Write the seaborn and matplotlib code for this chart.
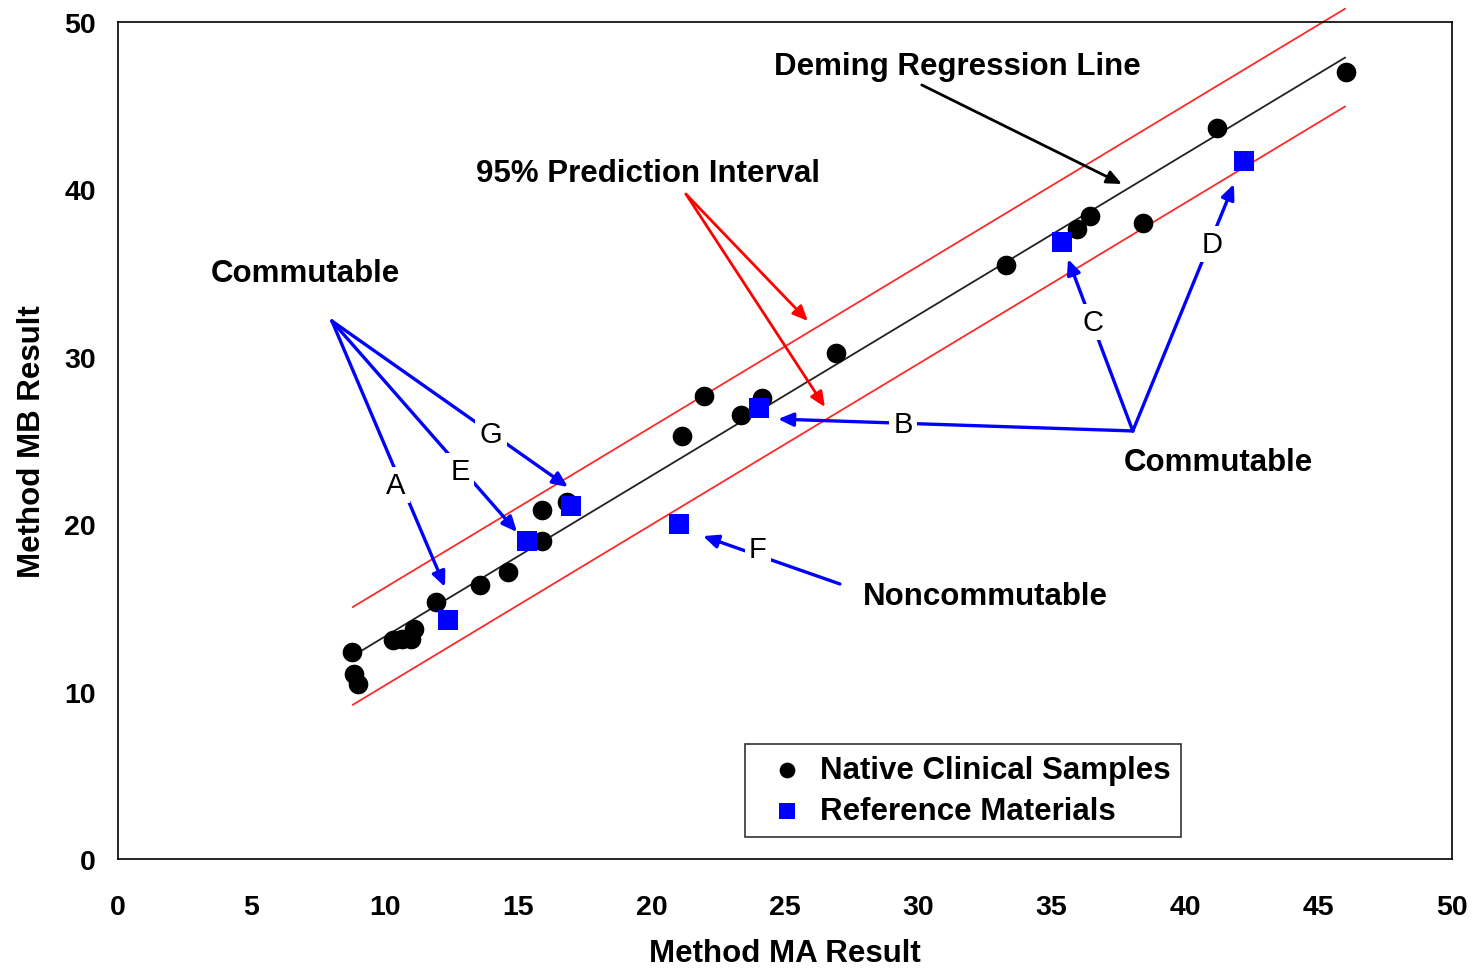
import numpy as np
import pandas as pd
import matplotlib
matplotlib.use("Agg")
import matplotlib.pyplot as plt
import seaborn as sns

# ---- data ----
native_x = [8.77, 8.86, 9.00, 10.31, 10.63, 10.98, 11.09, 11.92, 13.57, 14.63, 15.88, 15.88,
            16.84, 21.16, 21.97, 23.35, 24.16, 26.91, 33.28, 35.93, 36.43, 38.43, 41.18, 46.02]
native_y = [12.37, 11.05, 10.45, 13.08, 13.14, 13.14, 13.74, 15.37, 16.37, 17.16, 19.02, 20.87,
            21.35, 25.29, 27.68, 26.54, 27.51, 30.23, 35.48, 37.63, 38.39, 37.99, 43.64, 46.99]
ref_labels = ["A", "E", "G", "F", "B", "C", "D"]
ref_x = [12.38, 15.32, 16.97, 21.03, 24.04, 35.37, 42.20]
ref_y = [14.30, 19.02, 21.11, 20.01, 26.92, 36.88, 41.67]

deming_slope = 0.961
deming_intercept = 3.67
pi_halfwidth = 2.92
line_x_range = [8.8, 46.0]

x_ticks = [0, 5, 10, 15, 20, 25, 30, 35, 40, 45, 50]
y_ticks = [0, 10, 20, 30, 40, 50]

# ---- figure ----
sns.set_style("white")
plt.rcParams["font.family"] = ["Liberation Sans", "DejaVu Sans"]
plt.rcParams["text.color"] = "black"
plt.rcParams["axes.labelcolor"] = "black"
plt.rcParams["xtick.color"] = "black"
plt.rcParams["ytick.color"] = "black"

fig = plt.figure(figsize=(14.74, 9.70), dpi=100)
ax = fig.add_axes([0.080, 0.1134, 0.905, 0.8629])

lx = np.array(line_x_range)
ly = deming_intercept + deming_slope * lx
ax.plot(lx, ly, color="#222222", lw=1.3, zorder=2)
ax.plot(lx, ly + pi_halfwidth, color="#ff2a2a", lw=1.3, zorder=2, clip_on=False)
ax.plot(lx, ly - pi_halfwidth, color="#ff2a2a", lw=1.3, zorder=2, clip_on=False)

df_n = pd.DataFrame({"x": native_x, "y": native_y})
df_r = pd.DataFrame({"x": ref_x, "y": ref_y})
sns.scatterplot(data=df_n, x="x", y="y", color="black", marker="o", s=200,
                linewidth=0, ax=ax, zorder=4, label="Native Clinical Samples")
sns.scatterplot(data=df_r, x="x", y="y", color="#0000ff", marker="s", s=200,
                linewidth=0, ax=ax, zorder=5, label="Reference Materials")

ax.set_xlim(0, 50)
ax.set_ylim(0, 50)
ax.set_xticks(x_ticks)
ax.set_yticks(y_ticks)
ax.tick_params(axis="both", direction="out", length=6, width=1.2, color="black",
               labelsize=20.5)
ax.tick_params(axis="x", pad=19)
ax.tick_params(axis="y", pad=10)
for lab in ax.get_xticklabels() + ax.get_yticklabels():
    lab.set_fontweight("bold")
for sp in ax.spines.values():
    sp.set_visible(True)
    sp.set_color("black")
    sp.set_linewidth(1.2)
ax.set_xlabel("Method MA Result", fontsize=22.5, fontweight="bold", labelpad=13)
ax.set_ylabel("Method MB Result", fontsize=22.5, fontweight="bold", labelpad=12)

bold_kw = dict(fontsize=22.5, fontweight="bold", ha="center", va="center", zorder=6)
letter_kw = dict(fontsize=21, ha="center", va="center", zorder=7,
                 bbox=dict(boxstyle="square,pad=0.15", fc="white", ec="none"))


def arrow(start, end, color, lw=2.4):
    ax.annotate("", xy=end, xytext=start,
                arrowprops=dict(arrowstyle="-|>,head_length=0.9,head_width=0.4",
                                color=color, lw=lw, shrinkA=0, shrinkB=0),
                zorder=6, annotation_clip=False)


# Deming line label
ax.text(31.45, 47.35, "Deming Regression Line", **bold_kw)
arrow((30.13, 46.24), (37.63, 40.32), "black", lw=2.0)

# Prediction interval
ax.text(19.87, 40.95, "95% Prediction Interval", **bold_kw)
arrow((21.29, 39.72), (25.86, 32.14), "#ff0000", lw=2.0)
arrow((21.29, 39.72), (26.50, 27.00), "#ff0000", lw=2.0)

# Commutable (left)
ax.text(7.01, 35.0, "Commutable", **bold_kw)
src = (8.02, 32.14)
arrow(src, (12.26, 16.25), "#0000ff")
arrow(src, (14.96, 19.53), "#0000ff")
arrow(src, (16.87, 22.22), "#0000ff")
ax.text(10.42, 22.34, "A", **letter_kw)
ax.text(12.82, 23.18, "E", **letter_kw)
ax.text(13.98, 25.39, "G", **letter_kw)

# Commutable (right)
ax.text(41.23, 23.74, "Commutable", **bold_kw)
src = (38.04, 25.57)
arrow(src, (24.74, 26.28), "#0000ff")
arrow(src, (35.61, 35.84), "#0000ff")
arrow(src, (41.83, 40.32), "#0000ff")
ax.text(29.42, 25.99, "B", **letter_kw)
ax.text(36.54, 32.08, "C", **letter_kw)
ax.text(41.00, 36.74, "D", **letter_kw)

# Noncommutable
ax.text(32.5, 15.73, "Noncommutable", **bold_kw)
arrow((27.06, 16.43), (21.93, 19.29), "#0000ff")
ax.text(23.99, 18.52, "F", **letter_kw)

leg = ax.legend(loc="upper left", bbox_to_anchor=(0.470, 0.1374), borderaxespad=0,
                frameon=True, fancybox=False, edgecolor="black",
                prop=dict(weight="bold", size=22.5), handlelength=2.0,
                handletextpad=0.05, borderpad=0.35, labelspacing=0.36,
                markerscale=0.8)
leg.get_frame().set_linewidth(1.2)
for t in leg.get_texts():
    t.set_color("black")

fig.savefig("out.png", dpi=100)
